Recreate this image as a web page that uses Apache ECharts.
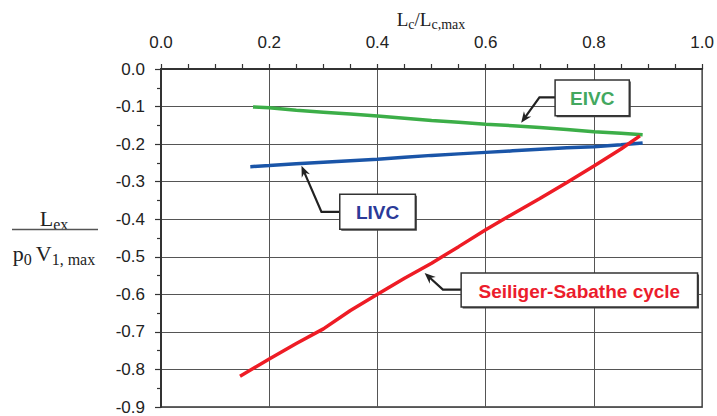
<!DOCTYPE html>
<html><head><meta charset="utf-8">
<script src="https://cdn.jsdelivr.net/npm/echarts@6/dist/echarts.min.js"></script>
<style>html,body{margin:0;padding:0;background:#fff}#c{width:717px;height:416px}</style>
</head><body><div id="c"></div>
<script>
// ---- data ----
const eivcX = [0.17, 0.2, 0.25, 0.3, 0.35, 0.4, 0.45, 0.5, 0.55, 0.6, 0.65, 0.7, 0.75, 0.8, 0.85, 0.89];
const eivcY = [-0.101, -0.103, -0.110, -0.115, -0.120, -0.125, -0.131, -0.137, -0.142, -0.147, -0.151, -0.156, -0.161, -0.167, -0.171, -0.175];
const livcX = [0.165, 0.2, 0.25, 0.3, 0.35, 0.4, 0.45, 0.5, 0.55, 0.6, 0.65, 0.7, 0.75, 0.8, 0.85, 0.89];
const livcY = [-0.260, -0.257, -0.252, -0.248, -0.244, -0.240, -0.235, -0.230, -0.226, -0.222, -0.218, -0.214, -0.210, -0.207, -0.202, -0.197];
const ssX = [0.146, 0.2, 0.25, 0.3, 0.35, 0.4, 0.45, 0.5, 0.55, 0.6, 0.65, 0.7, 0.75, 0.8, 0.85, 0.885];
const ssY = [-0.818, -0.772, -0.731, -0.692, -0.643, -0.600, -0.557, -0.517, -0.473, -0.428, -0.386, -0.345, -0.302, -0.258, -0.213, -0.178];
const seriesNames = ['EIVC', 'LIVC', 'Seiliger-Sabathe cycle'];
const xMin = 0, xMax = 1, xStep = 0.2;
const yMin = -0.9, yMax = 0, yStep = 0.1;

// annotation anchors in data coordinates
const notes = [
  {name: 'EIVC', color: '#43a85f', tip: [0.6655, -0.1432], elbow: [0.6993, -0.0755], box: [0.7282, -0.0293, 0.8653, -0.1245]},
  {name: 'LIVC', color: '#2b3a98', tip: [0.2596, -0.2579], elbow: [0.2965, -0.3805], box: [0.3303, -0.3333, 0.4700, -0.4267]},
  {name: 'Seiliger-Sabathe cycle', color: '#ec1c2c', tip: [0.4871, -0.5432], elbow: [0.5209, -0.5875], box: [0.5546, -0.5432, 0.9914, -0.6339]}
];

const zip = (a, b) => a.map((v, i) => [v, b[i]]);
const chart = echarts.init(document.getElementById('c'), null, {renderer: 'svg'});
const sans = '"Liberation Sans", Arial, sans-serif';
const serif = '"Liberation Serif", "Times New Roman", serif';

const option = {
  animation: false,
  grid: {left: 161, right: 14, top: 69, bottom: 9, show: true, borderColor: '#333', borderWidth: 1.5},
  xAxis: {
    type: 'value', position: 'top', min: xMin, max: xMax, interval: xStep,
    axisLine: {show: true, onZero: false, lineStyle: {color: '#333', width: 2}},
    axisTick: {show: true, inside: false, length: 5, lineStyle: {color: '#333', width: 1.2}},
    minorTick: {show: true, splitNumber: 4, length: 5, lineStyle: {color: '#333', width: 1.2}},
    splitLine: {show: true, lineStyle: {color: '#555', width: 1}},
    axisLabel: {formatter: v => v.toFixed(1), fontSize: 17, color: '#222', margin: 18, fontFamily: sans}
  },
  yAxis: {
    type: 'value', min: yMin, max: yMax, interval: yStep,
    axisLine: {show: true, onZero: false, lineStyle: {color: '#333', width: 2}},
    axisTick: {show: true, inside: false, length: 6, lineStyle: {color: '#333', width: 1.2}},
    minorTick: {show: true, splitNumber: 2, length: 4, lineStyle: {color: '#333', width: 1.2}},
    splitLine: {show: true, lineStyle: {color: '#555', width: 1}},
    axisLabel: {formatter: v => v.toFixed(1), fontSize: 17, color: '#222', margin: 16, fontFamily: sans}
  },
  series: [
    {name: seriesNames[0], type: 'line', data: zip(eivcX, eivcY), showSymbol: false, lineStyle: {color: '#3cae48', width: 3.5}},
    {name: seriesNames[1], type: 'line', data: zip(livcX, livcY), showSymbol: false, lineStyle: {color: '#1a55a8', width: 3.5}},
    {name: seriesNames[2], type: 'line', data: zip(ssX, ssY), showSymbol: false, lineStyle: {color: '#ee1c25', width: 3.5}}
  ]
};
chart.setOption(option);

// ---- overlays ----
const P = (pt) => chart.convertToPixel({gridIndex: 0}, pt);
const g = [];
const mctx = document.createElement('canvas').getContext('2d');
function pieces(list, cx, baseline) {
  let w = 0;
  list.forEach(p => { mctx.font = p.size + 'px ' + serif; p.w = mctx.measureText(p.t).width; w += p.w; });
  let x = cx - w / 2;
  list.forEach(p => {
    g.push({type: 'text', x: x, y: baseline + (p.dy || 0) - 0.33 * p.size,
      style: {text: p.t, fill: '#222', fontSize: p.size, fontFamily: serif, align: 'left', verticalAlign: 'middle'}});
    x += p.w;
  });
}
// x axis title
pieces([{t: 'L', size: 19}, {t: 'c', size: 14, dy: 3}, {t: '/L', size: 19}, {t: 'c,max', size: 14, dy: 3}], 431, 26);
// y axis title (fraction)
pieces([{t: 'L', size: 22}, {t: 'ex', size: 16, dy: 4}], 54, 226);
g.push({type: 'line', shape: {x1: 12, y1: 229.5, x2: 98, y2: 229.5}, style: {stroke: '#555', lineWidth: 1.5}});
pieces([{t: 'p', size: 22}, {t: '0 ', size: 16, dy: 4}, {t: 'V', size: 22}, {t: '1, max', size: 16, dy: 4}], 54, 261);

notes.forEach(n => {
  const tip = P(n.tip), el = P(n.elbow);
  const b1 = P([n.box[0], n.box[1]]), b2 = P([n.box[2], n.box[3]]);
  const bx = b1[0], by = b1[1], bw = b2[0] - b1[0], bh = b2[1] - b1[1];
  // leader: from box left edge at elbow height, to elbow, to tip
  const dx = tip[0] - el[0], dy = tip[1] - el[1], L = Math.hypot(dx, dy);
  const ux = dx / L, uy = dy / L, hl = 11, hw = 4.5;
  const bxp = tip[0] - ux * hl, byp = tip[1] - uy * hl;
  g.push({type: 'polyline', shape: {points: [[bx, el[1]], el, [tip[0] - ux * 6, tip[1] - uy * 6]]},
    style: {stroke: '#222', lineWidth: 2.2, fill: null}, z: 10});
  g.push({type: 'polygon', shape: {points: [tip, [bxp - uy * hw, byp + ux * hw], [tip[0] - ux * 7.5, tip[1] - uy * 7.5], [bxp + uy * hw, byp - ux * hw]]},
    style: {fill: '#222'}, z: 10});
  g.push({type: 'rect', shape: {x: bx + 1.5, y: by + 1.5, width: bw, height: bh}, style: {fill: '#444'}, z: 10});
  g.push({type: 'rect', shape: {x: bx, y: by, width: bw, height: bh}, style: {fill: '#fff', stroke: '#333', lineWidth: 1.5}, z: 11});
  g.push({type: 'text', x: bx + bw / 2, y: by + bh / 2 + 1, z: 12,
    style: {text: n.name, fill: n.color, fontSize: 19, fontWeight: 'bold', fontFamily: sans, align: 'center', verticalAlign: 'middle'}});
});
chart.setOption({graphic: g});
</script></body></html>
